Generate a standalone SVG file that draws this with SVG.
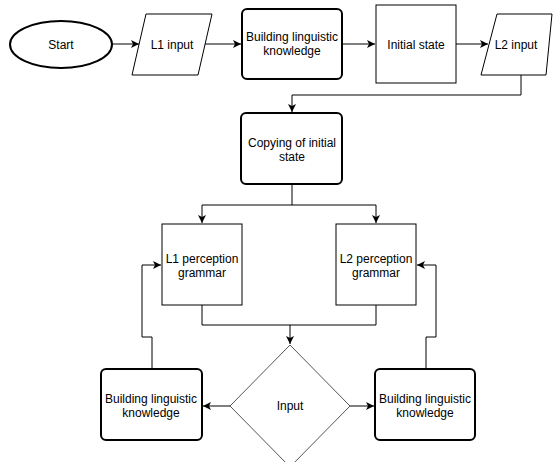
<svg xmlns="http://www.w3.org/2000/svg" width="553" height="462" viewBox="0 0 553 462">
<style>
text{font-family:"Liberation Sans",Arial,sans-serif;font-size:12px;fill:#000;text-anchor:middle}
.thick{fill:#fff;stroke:#000;stroke-width:2}
.thin{fill:#fff;stroke:#000;stroke-width:1}
.dia{fill:#fff;stroke:#555;stroke-width:1}
.c{fill:none;stroke:#000;stroke-width:1}
</style>
<defs>
<marker id="a" markerUnits="userSpaceOnUse" markerWidth="10" markerHeight="10" refX="8" refY="4" orient="auto">
<path d="M0,0 L8,4 L0,8 L2,4 z" fill="#000"/>
</marker>
</defs>
<rect width="553" height="462" fill="#fff"/>
<g id="connectors">
<path class="c" d="M112,44 H139" marker-end="url(#a)"/>
<path class="c" d="M205,44 H241" marker-end="url(#a)"/>
<path class="c" d="M342,44 H375" marker-end="url(#a)"/>
<path class="c" d="M456,44 H488" marker-end="url(#a)"/>
<path class="c" d="M521,75 V95 H292 V112" marker-end="url(#a)"/>
<path class="c" d="M292,184 V205 H202 V223" marker-end="url(#a)"/>
<path class="c" d="M292,205 H376 V223" marker-end="url(#a)"/>
<path class="c" d="M202,305 V325 H376 V305"/>
<path class="c" d="M290,325 V344" marker-end="url(#a)"/>
<path class="c" d="M230,406 H203" marker-end="url(#a)"/>
<path class="c" d="M350,406 H374" marker-end="url(#a)"/>
<path class="c" d="M152,369 V337 H142 V265 H161" marker-end="url(#a)"/>
<path class="c" d="M426,369 V337 H436 V265 H417" marker-end="url(#a)"/>
</g>
<g id="start">
<ellipse class="thick" cx="61" cy="44.5" rx="51" ry="23.5"/>
<text x="61" y="49">Start</text>
</g>
<g id="l1input">
<polygon class="thin" points="146,14 212,14 198,75 132,75"/>
<text x="172" y="49">L1 input</text>
</g>
<g id="build1">
<rect class="thick" x="242" y="9" width="100" height="70" rx="5"/>
<text x="292" y="41">Building linguistic</text>
<text x="292" y="55">knowledge</text>
</g>
<g id="initial">
<rect class="thin" x="376" y="5" width="80" height="78"/>
<text x="416" y="49">Initial state</text>
</g>
<g id="l2input">
<polygon class="thin" points="497,14 552,14 546,75 481,75"/>
<text x="516" y="49">L2 input</text>
</g>
<g id="copying">
<rect class="thick" x="241" y="113" width="101" height="71" rx="5"/>
<text x="292" y="147">Copying of initial</text>
<text x="292" y="161">state</text>
</g>
<g id="l1perc">
<rect class="thin" x="162" y="224" width="80" height="81"/>
<text x="202" y="263">L1 perception</text>
<text x="202" y="277">grammar</text>
</g>
<g id="l2perc">
<rect class="thin" x="336" y="224" width="80" height="81"/>
<text x="376" y="263">L2 perception</text>
<text x="376" y="277">grammar</text>
</g>
<g id="input">
<polygon class="dia" points="290,345 350,406 290,467 230,406"/>
<text x="290" y="410">Input</text>
</g>
<g id="build2">
<rect class="thick" x="101" y="369" width="101" height="71" rx="5"/>
<text x="151" y="403">Building linguistic</text>
<text x="151" y="417">knowledge</text>
</g>
<g id="build3">
<rect class="thick" x="375" y="369" width="100" height="71" rx="5"/>
<text x="425" y="403">Building linguistic</text>
<text x="425" y="417">knowledge</text>
</g>
</svg>
